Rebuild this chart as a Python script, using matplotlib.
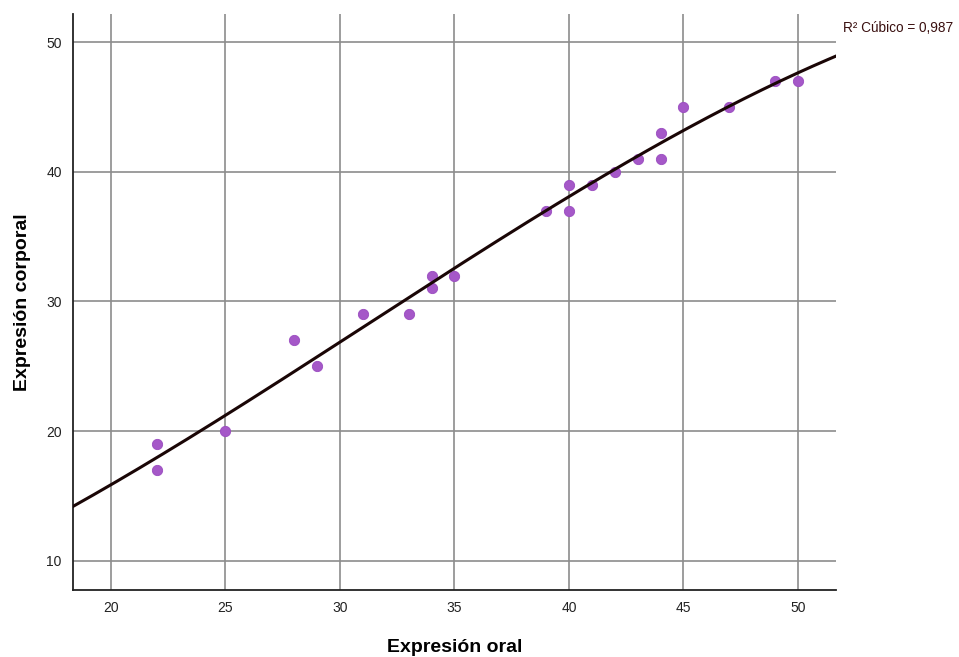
import numpy as np
import matplotlib.pyplot as plt

# Expresión oral vs Expresión corporal
oral = [22, 22, 25, 28, 29, 31, 33, 34, 34, 35, 39, 40, 40, 41, 42, 43, 44, 44, 45, 47, 49, 50]
corporal = [19, 17, 20, 27, 25, 29, 29, 32, 31, 32, 37, 39, 37, 39, 40, 41, 43, 41, 45, 45, 47, 47]
r2_label = "R² Cúbico = 0,987"

x_ticks = [20, 25, 30, 35, 40, 45, 50]
y_ticks = [10, 20, 30, 40, 50]
xlim = (18.34, 51.66)
ylim = (7.76, 52.16)

plt.rcParams['font.family'] = ['Liberation Sans', 'DejaVu Sans']

fig = plt.figure(figsize=(9.59, 6.57), dpi=100)
ax = fig.add_axes([0.0761, 0.102, 0.7956, 0.8767])

ax.set_xlim(*xlim)
ax.set_ylim(*ylim)
ax.set_xticks(x_ticks)
ax.set_yticks(y_ticks)
ax.grid(True, color='#8c8c8c', linewidth=1.2)
ax.set_axisbelow(True)

ax.scatter(oral, corporal, s=55, color='#a558c8', edgecolors='#9a4cc0', linewidths=0.6, zorder=3)

# cubic fit
coef = np.polyfit(oral, corporal, 3)
xs = np.linspace(xlim[0], xlim[1], 300)
ax.plot(xs, np.polyval(coef, xs), color='#1a0606', linewidth=2.2, zorder=4)

for side in ['top', 'right']:
    ax.spines[side].set_visible(False)
for side in ['left', 'bottom']:
    ax.spines[side].set_linewidth(1.3)
    ax.spines[side].set_color('#222222')
ax.tick_params(length=0, labelsize=10, pad=8, colors='#222222')

ax.set_xlabel('Expresión oral', fontsize=14, fontweight='bold', labelpad=17)
ax.set_ylabel('Expresión corporal', fontsize=14, fontweight='bold', labelpad=11)

fig.text(0.879, 0.957, r2_label, fontsize=9.8, color='#3a1010', va='center', ha='left')

fig.savefig('out.png', dpi=100)
